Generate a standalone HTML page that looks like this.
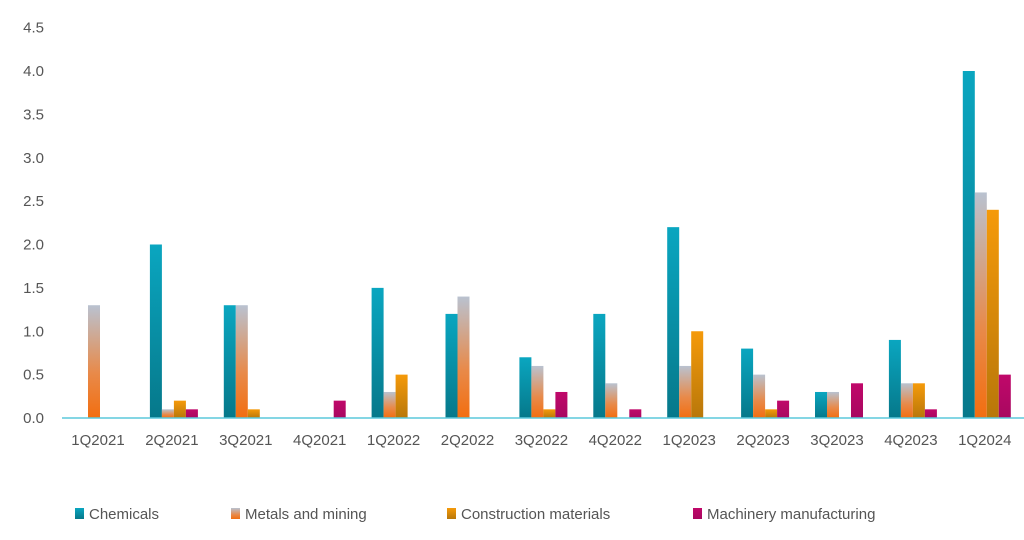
<!DOCTYPE html>
<html><head><meta charset="utf-8"><style>
body{margin:0;background:#fff;font-family:"Liberation Sans",sans-serif}
svg text{font-family:"Liberation Sans",sans-serif;fill:#555;font-size:15px}
</style></head><body>
<svg id="c" width="1024" height="535">
<defs>
<linearGradient id="gC" x1="0" y1="0" x2="0" y2="1"><stop offset="0" stop-color="#0aa6c0"/><stop offset="1" stop-color="#06788a"/></linearGradient>
<linearGradient id="gM" x1="0" y1="0" x2="0" y2="1"><stop offset="0" stop-color="#b9c2d0"/><stop offset="0.6" stop-color="#e88a4a"/><stop offset="1" stop-color="#f26e10"/></linearGradient>
<linearGradient id="gK" x1="0" y1="0" x2="0" y2="1"><stop offset="0" stop-color="#f59a0a"/><stop offset="1" stop-color="#b8770a"/></linearGradient>
<linearGradient id="gR" x1="0" y1="0" x2="0" y2="1"><stop offset="0" stop-color="#c0086a"/><stop offset="1" stop-color="#a80860"/></linearGradient>
</defs>
</svg>
<script>
const categories=["1Q2021","2Q2021","3Q2021","4Q2021","1Q2022","2Q2022","3Q2022","4Q2022","1Q2023","2Q2023","3Q2023","4Q2023","1Q2024"];
const chemicals=[0,2.0,1.3,0,1.5,1.2,0.7,1.2,2.2,0.8,0.3,0.9,4.0];
const metals=[1.3,0.1,1.3,0,0.3,1.4,0.6,0.4,0.6,0.5,0.3,0.4,2.6];
const construction=[0,0.2,0.1,0,0.5,0,0.1,0,1.0,0.1,0,0.4,2.4];
const machinery=[0,0.1,0,0.2,0,0,0.3,0.1,0,0.2,0.4,0.1,0.5];
const yTicks=["0.0","0.5","1.0","1.5","2.0","2.5","3.0","3.5","4.0","4.5"];
const seriesNames=["Chemicals","Metals and mining","Construction materials","Machinery manufacturing"];
const svg=document.getElementById('c');const NS='http://www.w3.org/2000/svg';
function y(v){return 418-v*86.75;}
function x(i){return 98+i*73.9;}
function mk(t,a){const e=document.createElementNS(NS,t);for(const k in a)e.setAttribute(k,a[k]);svg.appendChild(e);return e;}
yTicks.forEach(t=>{const e=mk('text',{x:44,y:y(+t)+5,'text-anchor':'end'});e.textContent=t;

});
const series=[chemicals,metals,construction,machinery];const fills=['url(#gC)','url(#gM)','url(#gK)','url(#gR)'];
const keys=['chemicals','metals','construction','machinery'];
categories.forEach((c,i)=>{
 series.forEach((s,j)=>{if(s[i]<=0)return;const r=mk('rect',{x:x(i)-22+j*12,y:y(s[i]),width:12,height:y(0)-y(s[i]),fill:fills[j]});
 
 });
 const t=mk('text',{x:x(i),y:445,'text-anchor':'middle'});t.textContent=c;
 
 
});
const ax=mk('line',{x1:62,x2:1024,y1:418,y2:418,stroke:'#5cc8dc','stroke-width':1.5});


const lx=[75,231,447,693];
seriesNames.forEach((n,j)=>{const g=mk('rect',{x:lx[j],y:508,width:9,height:11,fill:fills[j]});


const t=mk('text',{x:lx[j]+14,y:519});t.textContent=n;

});
</script>
</body></html>
